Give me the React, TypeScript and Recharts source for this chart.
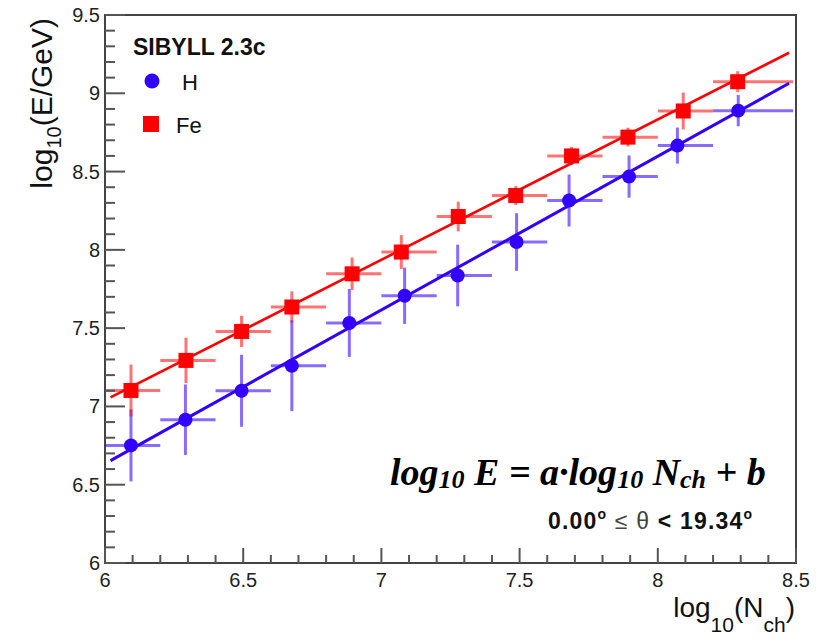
import React from "react";
import {
  ErrorBar,
  Legend,
  ReferenceArea,
  Scatter,
  ScatterChart,
  XAxis,
  YAxis,
} from "recharts";

// bin edges in log10(Nch); the last bin is wider
const binEdges = [6.0, 6.2, 6.4, 6.6, 6.8, 7.0, 7.2, 7.4, 7.6, 7.8, 8.0, 8.2, 8.49];

const hX = [6.094, 6.291, 6.494, 6.676, 6.884, 7.084, 7.276, 7.489, 7.679, 7.896, 8.071, 8.291];
const hY = [6.751, 6.915, 7.1, 7.26, 7.533, 7.707, 7.836, 8.05, 8.315, 8.468, 8.666, 8.889];
const hYErr = [0.23, 0.225, 0.23, 0.29, 0.217, 0.18, 0.197, 0.184, 0.166, 0.135, 0.115, 0.1];

const feX = [6.094, 6.293, 6.494, 6.676, 6.894, 7.072, 7.278, 7.486, 7.688, 7.892, 8.092, 8.289];
const feY = [7.102, 7.294, 7.479, 7.635, 7.847, 7.986, 8.213, 8.347, 8.6, 8.72, 8.887, 9.074];
const feYErr = [0.166, 0.145, 0.1, 0.1, 0.104, 0.108, 0.095, 0.06, 0.058, 0.06, 0.118, 0.067];

// fitted lines, end points
const fitX = [6.02, 8.475];
const hFitY = [6.654, 9.064];
const feFitY = [7.058, 9.259];

const xMajorTicks = [6, 6.5, 7, 7.5, 8, 8.5];
const yMajorTicks = [6, 6.5, 7, 7.5, 8, 8.5, 9, 9.5];

const H_COLOR = "#3300ff";
const H_ERR = "rgba(51,0,255,0.58)";
const FE_COLOR = "#ff0000";
const FE_ERR = "rgba(255,0,0,0.55)";
const SANS = "'Liberation Sans', Arial, Helvetica, sans-serif";
const SERIF = "'Liberation Serif', 'Times New Roman', serif";

const withMinor = (major: number[]) => {
  const out: number[] = [];
  for (let i = 0; i < major.length - 1; i++) {
    for (let k = 0; k < 5; k++) {
      out.push(Math.round((major[i] + k * 0.1) * 10) / 10);
    }
  }
  out.push(major[major.length - 1]);
  return out;
};

const xTicks = withMinor(xMajorTicks);
const yTicks = withMinor(yMajorTicks);

const isMajor = (v: number, majors: number[]) =>
  majors.some((m) => Math.abs(m - v) < 1e-6);

const binOf = (x: number) => {
  for (let i = 0; i < binEdges.length - 1; i++) {
    if (x >= binEdges[i] && x < binEdges[i + 1]) return [binEdges[i], binEdges[i + 1]];
  }
  return [x, x];
};

const buildPoints = (xs: number[], ys: number[], errs: number[]) =>
  xs.map((x, i) => {
    const [lo, hi] = binOf(x);
    return { x, y: ys[i], ex: [x - lo, hi - x], ey: [errs[i], errs[i]] };
  });

const hData = buildPoints(hX, hY, hYErr);
const feData = buildPoints(feX, feY, feYErr);
const hFit = fitX.map((x, i) => ({ x, y: hFitY[i] }));
const feFit = fitX.map((x, i) => ({ x, y: feFitY[i] }));

function XTick(props: any) {
  const { x, y, payload } = props;
  const major = isMajor(payload.value, xMajorTicks);
  return (
    <g>
      <line x1={x} y1={y} x2={x} y2={y - (major ? 15 : 8)} stroke="#555" strokeWidth={2} />
      {major && (
        <text x={x} y={y + 24} textAnchor="middle" fontSize={20} fill="#222" fontFamily={SANS}>
          {payload.value}
        </text>
      )}
    </g>
  );
}

function YTick(props: any) {
  const { x, y, payload } = props;
  const major = isMajor(payload.value, yMajorTicks);
  return (
    <g>
      <line x1={x} y1={y} x2={x + (major ? 20 : 10)} y2={y} stroke="#555" strokeWidth={2} />
      {major && (
        <text x={x - 5} y={y + 7} textAnchor="end" fontSize={20} fill="#222" fontFamily={SANS}>
          {payload.value}
        </text>
      )}
    </g>
  );
}

const CircleMarker = (p: any) => <circle cx={p.cx} cy={p.cy} r={7} fill={H_COLOR} />;
const SquareMarker = (p: any) => (
  <rect x={p.cx - 7.5} y={p.cy - 7.5} width={15} height={15} fill={FE_COLOR} />
);
const NoMarker = () => <g />;

function LegendBox() {
  return (
    <svg width={300} height={150} style={{ display: "block" }}>
      <text x={133} y={55} fontSize={23} fontWeight="bold" fill="#111" fontFamily={SANS}>
        SIBYLL 2.3c
      </text>
      <circle cx={152} cy={81} r={7.5} fill={H_COLOR} />
      <text x={182} y={90} fontSize={22} fill="#111" fontFamily={SANS}>
        H
      </text>
      <rect x={143} y={116} width={16} height={16} fill={FE_COLOR} />
      <text x={176} y={133} fontSize={22} fill="#111" fontFamily={SANS}>
        Fe
      </text>
    </svg>
  );
}

export default function App() {
  return (
    <div style={{ position: "relative", width: 821, height: 639, background: "#fff" }}>
      <style>{"body{margin:0}"}</style>
      <ScatterChart width={821} height={639} margin={{ top: 15, right: 25, bottom: 36, left: 45 }}>
        <XAxis
          type="number"
          dataKey="x"
          domain={[6, 8.5]}
          ticks={xTicks}
          interval={0}
          height={40}
          tickSize={0}
          tickMargin={0}
          axisLine={false}
          tickLine={false}
          tick={<XTick />}
          allowDataOverflow
        />
        <YAxis
          type="number"
          dataKey="y"
          domain={[6, 9.5]}
          ticks={yTicks}
          interval={0}
          width={60}
          tickSize={0}
          tickMargin={0}
          axisLine={false}
          tickLine={false}
          tick={<YTick />}
          allowDataOverflow
        />
        <ReferenceArea
          x1={6}
          x2={8.5}
          y1={6}
          y2={9.5}
          fill="none"
          fillOpacity={0}
          stroke="#444"
          strokeWidth={2}
          ifOverflow="visible"
        />
        <Scatter
          name="H"
          data={hData}
          fill={H_COLOR}
          shape={CircleMarker}
          isAnimationActive={false}
        >
          <ErrorBar dataKey="ey" direction="y" width={0} stroke={H_ERR} strokeWidth={3} />
          <ErrorBar dataKey="ex" direction="x" width={0} stroke={H_ERR} strokeWidth={3} />
        </Scatter>
        <Scatter
          name="Fe"
          data={feData}
          fill={FE_COLOR}
          shape={SquareMarker}
          isAnimationActive={false}
        >
          <ErrorBar dataKey="ey" direction="y" width={0} stroke={FE_ERR} strokeWidth={3} />
          <ErrorBar dataKey="ex" direction="x" width={0} stroke={FE_ERR} strokeWidth={3} />
        </Scatter>
        <Scatter
          name="H fit"
          data={hFit}
          line={{ stroke: H_COLOR, strokeWidth: 3 }}
          shape={NoMarker}
          legendType="none"
          isAnimationActive={false}
        />
        <Scatter
          name="Fe fit"
          data={feFit}
          line={{ stroke: FE_COLOR, strokeWidth: 2.6 }}
          shape={NoMarker}
          legendType="none"
          isAnimationActive={false}
        />
        <Legend
          layout="vertical"
          align="center"
          verticalAlign="middle"
          content={() => <LegendBox />}
          wrapperStyle={{ left: 0, top: 0, width: 300, height: 150 }}
        />
      </ScatterChart>
      <svg
        width={821}
        height={639}
        style={{ position: "absolute", left: 0, top: 0, pointerEvents: "none" }}
      >
        <text
          transform="translate(52,18) rotate(-90)"
          textAnchor="end"
          fontSize={30}
          fill="#111"
          fontFamily={SANS}
        >
          log<tspan fontSize={20} dy={9}>10</tspan>
          <tspan dy={-9}>(E/GeV)</tspan>
        </text>
        <text x={795} y={617} textAnchor="end" fontSize={28} fill="#111" fontFamily={SANS}>
          log<tspan fontSize={21} dy={15}>10</tspan>
          <tspan dy={-15}>(N</tspan>
          <tspan fontSize={21} dy={15}>ch</tspan>
          <tspan dy={-15}>)</tspan>
        </text>
        <text
          x={390}
          y={485}
          fontSize={38}
          fontWeight="bold"
          fontStyle="italic"
          fill="#000"
          fontFamily={SERIF}
        >
          log<tspan fontSize={26} dy={3}>10</tspan>
          <tspan dy={-3}> E = a·log</tspan>
          <tspan fontSize={26} dy={3}>10</tspan>
          <tspan dy={-3}> N</tspan>
          <tspan fontSize={26} dy={3}>ch</tspan>
          <tspan dy={-3}> + b</tspan>
        </text>
        <text
          x={548}
          y={529}
          fontSize={23}
          fill="#111"
          fontFamily={SANS}
          textLength={204}
          lengthAdjust="spacing"
        >
          <tspan fontWeight="bold">0.00</tspan>
          <tspan fontSize={14} fontWeight="bold" dy={-10}>o</tspan>
          <tspan dy={10} fill="#444">{" ≤ θ "}</tspan>
          <tspan fontWeight="bold">{"< 19.34"}</tspan>
          <tspan fontSize={14} fontWeight="bold" dy={-10}>o</tspan>
        </text>
      </svg>
    </div>
  );
}
